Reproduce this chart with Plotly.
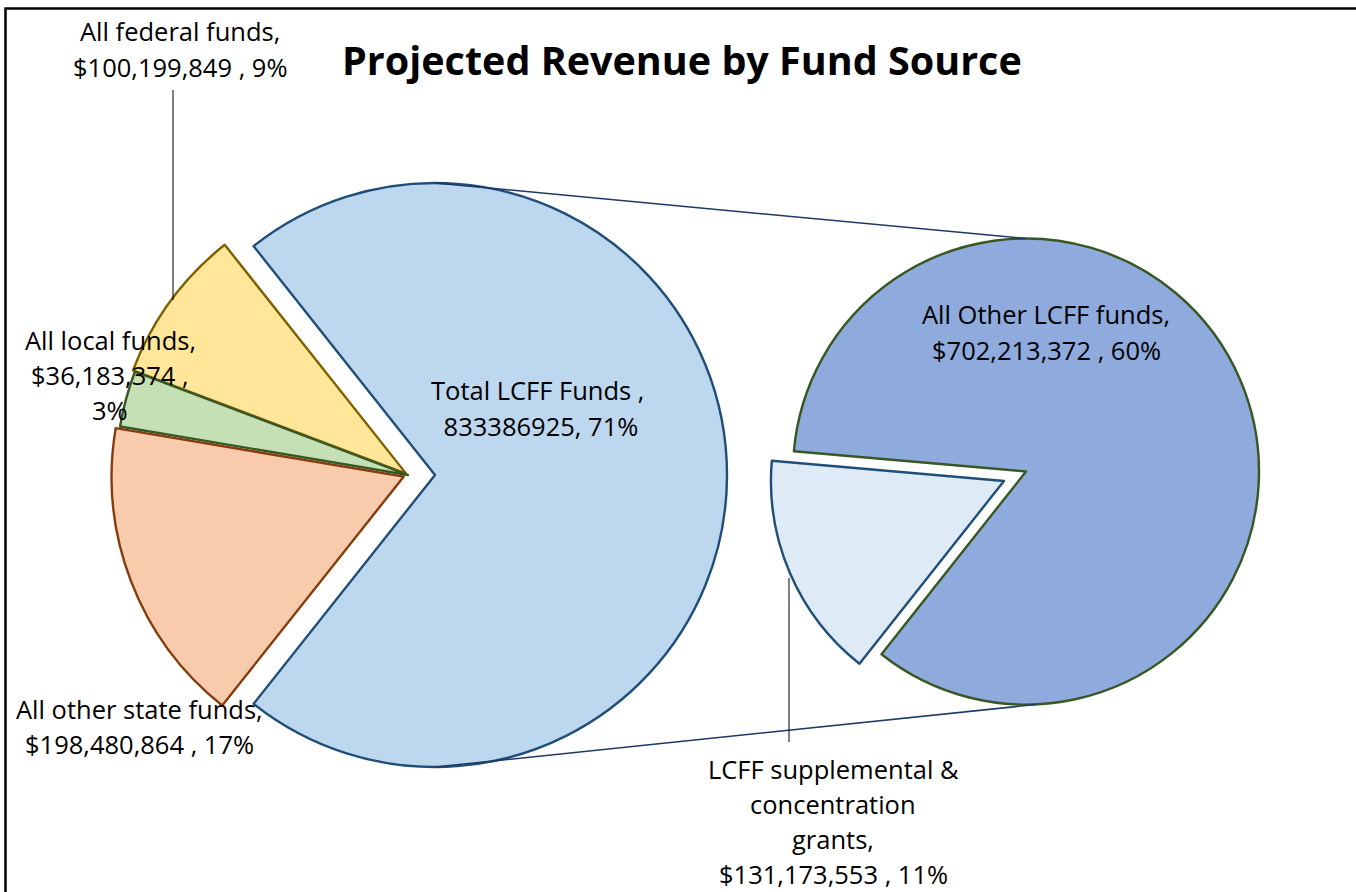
import plotly.graph_objects as go

# ---------------- data ----------------
main_labels = ["Total LCFF Funds", "All federal funds", "All local funds", "All other state funds"]
main_values = [833386925, 100199849, 36183374, 198480864]
main_fill = ["#BDD7EE", "#FFE699", "#C5E0B4", "#F8CBAD"]
main_edge = ["#1F4E79", "#7F6000", "#385723", "#843C0C"]

sub_labels = ["All Other LCFF funds", "LCFF supplemental & concentration grants"]
sub_values = [702213372, 131173553]
sub_fill = ["#8FAADC", "#DEEBF7"]
sub_edge = ["#385723", "#1F4E79"]

title_text = "Projected Revenue by Fund Source"

# ---------------- layout geometry (pixels) ----------------
W, H = 1356, 892
FONT = "Open Sans"
LABEL_SIZE = 25.5
TITLE_SIZE = 39.5
LINE_GAP = 35
L_cx, L_cy, L_r = 408, 475, 292
L_pulls = [0.0925, 0.008, 0, 0.016]
R_cx, R_cy, R_r = 1026, 471.5, 233
R_pulls = [0, 0.103]

grand = sum(main_values)


def pct(v):
    return round(v / grand * 100)


def px(x):
    return x / W


def py(y):
    return 1 - y / H


def domain(cx, cy, r, pull):
    half = r * (1 + pull)
    return dict(x=[px(cx - half), px(cx + half)], y=[py(cy + half), py(cy - half)])


lcff_share = main_values[0] / grand
rot_main = 90 - 360 * lcff_share / 2
rot_sub = 90 - 175

fig = go.Figure()
fig.add_trace(go.Pie(
    labels=main_labels, values=main_values, sort=False, direction="counterclockwise",
    rotation=rot_main, pull=L_pulls, textinfo="none", hoverinfo="label+value+percent",
    marker=dict(colors=main_fill, line=dict(color=main_edge, width=2.4)),
    domain=domain(L_cx, L_cy, L_r, max(L_pulls)), showlegend=False,
))
fig.add_trace(go.Pie(
    labels=sub_labels, values=sub_values, sort=False, direction="counterclockwise",
    rotation=rot_sub, pull=R_pulls, textinfo="none", hoverinfo="label+value",
    marker=dict(colors=sub_fill, line=dict(color=sub_edge, width=2.4)),
    domain=domain(R_cx, R_cy, R_r, max(R_pulls)), showlegend=False,
))

# connector lines between the exploded LCFF slice and the secondary pie
lc_x = L_cx + L_pulls[0] * L_r
shapes = [
    dict(type="line", xref="paper", yref="paper", x0=px(lc_x), y0=py(L_cy - L_r),
         x1=px(R_cx), y1=py(R_cy - R_r), line=dict(color="#1F3864", width=1.5)),
    dict(type="line", xref="paper", yref="paper", x0=px(lc_x), y0=py(L_cy + L_r),
         x1=px(R_cx + 10), y1=py(R_cy + R_r), line=dict(color="#1F3864", width=1.5)),
    # leader lines
    dict(type="line", xref="paper", yref="paper", x0=px(173), y0=py(90), x1=px(173), y1=py(300),
         line=dict(color="#000000", width=1)),
    dict(type="line", xref="paper", yref="paper", x0=px(789), y0=py(578), x1=px(789), y1=py(742),
         line=dict(color="#000000", width=1)),
    # chart border
    dict(type="rect", xref="paper", yref="paper", x0=px(5.5), x1=px(W + 20), y0=py(H + 20), y1=py(8.5),
         line=dict(color="#000000", width=2.5)),
]

labels = [
    ([f"{main_labels[1]},", f"${main_values[1]:,} , {pct(main_values[1])}%"], 180, 49),
    ([f"{main_labels[2]},", f"${main_values[2]:,} ,", f"{pct(main_values[2])}%"], 110, 375),
    ([f"{main_labels[3]},", f"${main_values[3]:,} , {pct(main_values[3])}%"], 139, 726),
    ([f"{main_labels[0]} ,", f" {main_values[0]}, {pct(main_values[0])}%"], 537, 408),
    ([f"{sub_labels[0]},", f"${sub_values[0]:,} , {pct(sub_values[0])}%"], 1046, 332),
    (["LCFF supplemental &", "concentration", "grants,", f"${sub_values[1]:,} , {pct(sub_values[1])}%"], 833, 821),
]
annotations = []
for lines, x, y in labels:
    n = len(lines)
    for i, line in enumerate(lines):
        ly = y + (i - (n - 1) / 2) * LINE_GAP
        annotations.append(dict(
            text=line, x=px(x), y=py(ly), xref="paper", yref="paper", xanchor="center", yanchor="middle",
            showarrow=False, align="center", font=dict(family=FONT, size=LABEL_SIZE, color="#000000")))
annotations.append(dict(text=f"<b>{title_text}</b>", x=px(682), y=py(60), xref="paper", yref="paper",
                        xanchor="center", yanchor="middle", showarrow=False,
                        font=dict(family=FONT, size=TITLE_SIZE, color="#000000")))

fig.update_layout(
    width=W, height=H, margin=dict(l=0, r=0, t=0, b=0),
    paper_bgcolor="#FFFFFF", plot_bgcolor="#FFFFFF",
    shapes=shapes, annotations=annotations, font=dict(family=FONT),
)

fig.write_html("out.html", config={"displayModeBar": False},
               post_script="document.body.style.margin='0px';document.body.style.overflow='hidden';")
